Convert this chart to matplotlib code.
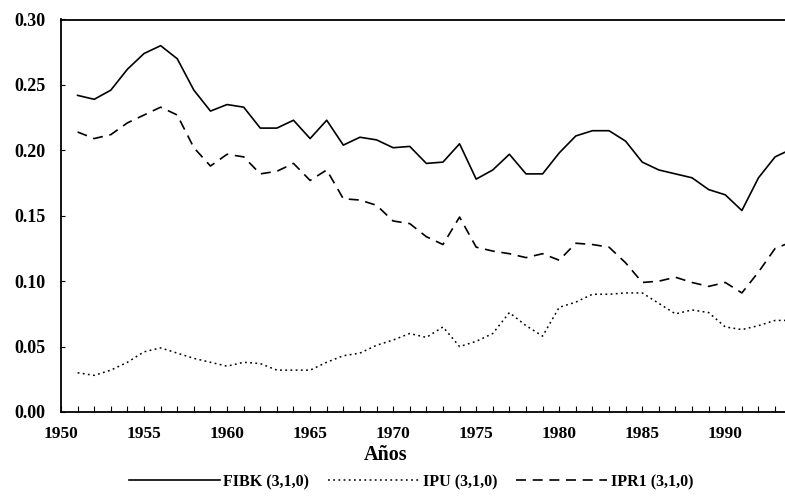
import matplotlib
matplotlib.use("Agg")
import matplotlib.pyplot as plt
from matplotlib.ticker import MultipleLocator, FormatStrFormatter

years = list(range(1951, 1995))

fibk = [0.242, 0.239, 0.246, 0.262, 0.274, 0.280, 0.270, 0.246, 0.230, 0.235,
        0.233, 0.217, 0.217, 0.223, 0.209, 0.223, 0.204, 0.210, 0.208, 0.202,
        0.203, 0.190, 0.191, 0.205, 0.178, 0.185, 0.197, 0.182, 0.182, 0.198,
        0.211, 0.215, 0.215, 0.207, 0.191, 0.185, 0.182, 0.179, 0.170, 0.166,
        0.154, 0.179, 0.195, 0.201]

ipu = [0.030, 0.028, 0.032, 0.038, 0.046, 0.049, 0.045, 0.041, 0.038, 0.035,
       0.038, 0.037, 0.032, 0.032, 0.032, 0.038, 0.043, 0.045, 0.051, 0.055,
       0.060, 0.057, 0.065, 0.050, 0.054, 0.060, 0.076, 0.066, 0.058, 0.080,
       0.084, 0.090, 0.090, 0.091, 0.091, 0.083, 0.075, 0.078, 0.076, 0.065,
       0.063, 0.066, 0.070, 0.070]

ipr1 = [0.214, 0.209, 0.212, 0.221, 0.227, 0.233, 0.227, 0.202, 0.188, 0.197,
        0.195, 0.182, 0.184, 0.190, 0.177, 0.185, 0.163, 0.162, 0.158, 0.146,
        0.144, 0.134, 0.128, 0.149, 0.126, 0.123, 0.121, 0.118, 0.121, 0.116,
        0.129, 0.128, 0.126, 0.114, 0.099, 0.100, 0.103, 0.099, 0.096, 0.099,
        0.091, 0.107, 0.125, 0.130]

labels = ["FIBK (3,1,0)", "IPU (3,1,0)", "IPR1 (3,1,0)"]
yticks = [0.00, 0.05, 0.10, 0.15, 0.20, 0.25, 0.30]
xticks = [1950, 1955, 1960, 1965, 1970, 1975, 1980, 1985, 1990]

plt.rcParams['font.family'] = ['Liberation Serif', 'DejaVu Serif']
plt.rcParams['font.weight'] = 'bold'

fig = plt.figure(figsize=(7.85, 4.97), dpi=100)
W, H = 785, 497
left, right, top, bottom = 61, 800, 19.5, 412
ax = fig.add_axes([left / W, 1 - bottom / H, (right - left) / W, (bottom - top) / H])

ax.plot(years, fibk, color='black', lw=1.2, linestyle='-', label=labels[0])
ax.plot(years, ipu, color='black', lw=1.1, linestyle=(0, (1.2, 2.2)), label=labels[1])
ax.plot(years, ipr1, color='black', lw=1.2, linestyle=(0, (6, 4)), label=labels[2])

ax.set_xlim(1950, 1994.5)
ax.set_ylim(0, 0.30)
ax.set_xticks(xticks)
ax.xaxis.set_minor_locator(MultipleLocator(1))
ax.set_yticks(yticks)
ax.yaxis.set_major_formatter(FormatStrFormatter('%.2f'))
ax.tick_params(axis='x', which='major', direction='in', length=4, width=0.8,
               labelsize=12.5, pad=10)
ax.tick_params(axis='x', which='minor', direction='in', length=4, width=0.8)
ax.tick_params(axis='y', direction='in', length=3, width=0.8, labelsize=13, pad=11)
for lab in ax.get_xticklabels() + ax.get_yticklabels():
    lab.set_fontweight('bold')

for s in ['left', 'bottom', 'top']:
    ax.spines[s].set_linewidth(1.3)
ax.spines['right'].set_visible(False)

fig.text(386 / W, 1 - 455 / H, "Años", ha='center', va='center',
         fontsize=14.5, fontweight='bold')

leg = fig.legend(loc='center', bbox_to_anchor=(411 / W, 1 - 482 / H), ncol=3,
                 frameon=False, handlelength=5.7, handletextpad=0.2,
                 columnspacing=1.2, prop={'size': 11.5, 'weight': 'bold'})

fig.savefig("out.png", dpi=100)
